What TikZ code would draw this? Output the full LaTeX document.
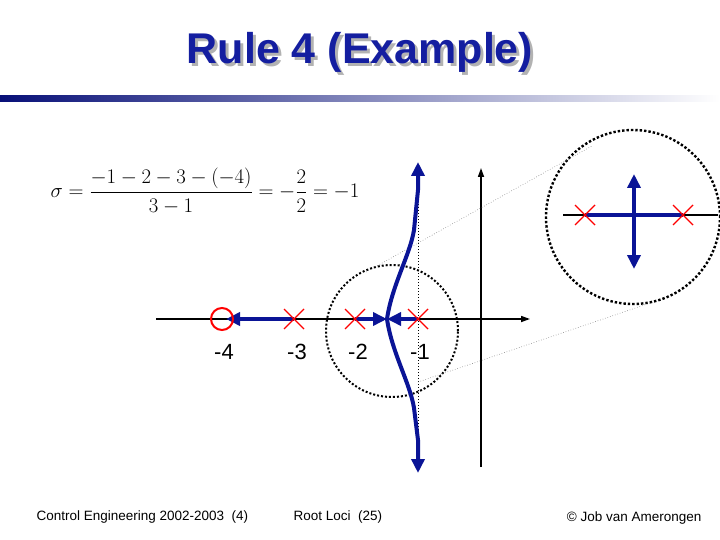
\documentclass[tikz,border=0pt]{standalone}
\usepackage{fontspec}
\setmainfont{Liberation Sans}
\usepackage{amsmath}
\usetikzlibrary{arrows.meta,shadings}
\definecolor{rlblue}{RGB}{10,20,150}
\definecolor{ttl}{RGB}{20,30,160}
\begin{document}
\begin{tikzpicture}[x=1pt,y=-1pt,
  axis/.style={line width=1.6pt,-{Triangle[length=9pt,width=6pt]}},
  locus/.style={rlblue,line width=4pt},
  larrow/.style={locus,-{Triangle[length=14pt,width=13pt]}},
  pole/.style={red,line width=1.4pt},
  lbl/.style={font=\fontsize{22}{24}\selectfont,anchor=center},
  foot/.style={font=\fontsize{13.5}{15}\selectfont,anchor=base west}]
\useasboundingbox (0,0) rectangle (720,540);
% title
\node[font=\bfseries\fontsize{43}{46}\selectfont,text=gray!60] at (363,55) {Rule 4 (Example)};
\node (title)[font=\bfseries\fontsize{43}{46}\selectfont,text=ttl] at (360,52) {Rule 4 (Example)};
\shade[left color=rlblue!80!black,right color=white] (0,96) rectangle (720,102);
% formula
\node (f) at (205,191) {\fontsize{20.5}{23}\selectfont$\sigma=\dfrac{-1-2-3-(-4)}{3-1}=-\dfrac{2}{2}=-1$};
% axes
\coordinate (xa) at (156,319); \coordinate (xb) at (530,319);
\coordinate (ya) at (481,467); \coordinate (yb) at (481,168);
\draw[axis] (xa) -- (xb);
\draw[axis] (ya) -- (yb);
% dotted circle and line
\node (zc) [circle,draw,dotted,line width=2pt,minimum size=132pt,inner sep=0] at (392,331) {};
\draw[dotted,line width=1pt] (418,180) -- (418,445);
% big circle
\node (bc) [circle,draw,dotted,line width=2.4pt,minimum size=174pt,inner sep=0] at (633,217) {};
\draw[gray,dotted,line width=0.6pt] (366,272) -- (592,146);
\draw[gray,dotted,line width=0.6pt] (418,382) -- (653,302);
% loci
\coordinate (p4) at (222,319); \coordinate (p3) at (294,319);
\coordinate (p2) at (355,319); \coordinate (p1) at (418,319);
\coordinate (bp) at (387,319);
\draw[larrow] (p3) -- (226,319);
\draw[larrow] (p2) -- (bp);
\draw[larrow] (p1) -- (bp);
\draw[larrow] (bp) .. controls (392,285) and (410,255) .. (414,230) -- (418,190) -- (418,162);
\draw[larrow] (bp) .. controls (392,353) and (410,383) .. (414,408) -- (418,440) -- (418,473);
% poles and zero
\node (z4) [circle,draw=red,line width=2pt,minimum size=22pt,inner sep=0] at (p4) {};
\foreach \x in {294,355,418} \draw[pole] (\x-10,309) -- (\x+10,329) (\x-10,329) -- (\x+10,309);
% zoom content
\draw[line width=1.6pt] (563,215) -- (718,215);
\draw[locus] (585,215) -- (683,215);
\draw[larrow] (634,215) -- (634,174);
\draw[larrow] (634,215) -- (634,269);
\foreach \x in {585,683} \draw[pole] (\x-10,205) -- (\x+10,225) (\x-10,225) -- (\x+10,205);
% labels
\node[lbl] (l4) at (224,352) {-4};
\node[lbl] (l3) at (297,352) {-3};
\node[lbl] (l2) at (358,352) {-2};
\node[lbl] (l1) at (420,352) {-1};
% footer
\node[foot] (fa) at (33,520) {Control Engineering 2002-2003\ \ (4)};
\node[foot] (fb) at (290,520) {Root Loci\ \ (25)};
\node[foot,anchor=base east] (fc) at (705,521) {© Job van Amerongen};
\end{tikzpicture}
\end{document}
